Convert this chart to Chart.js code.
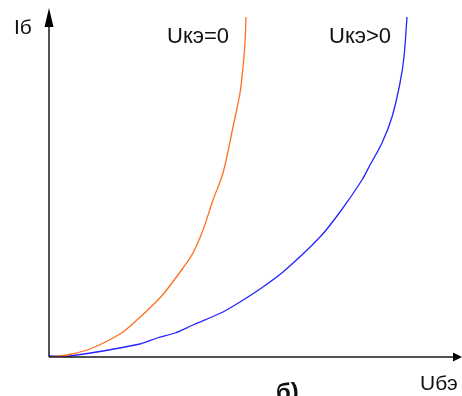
<!DOCTYPE html>
<html><head><meta charset="utf-8">
<script src="https://cdn.jsdelivr.net/npm/chart.js@4/dist/chart.umd.min.js"></script>
<style>html,body{margin:0;padding:0;background:#fff;}#wrap{width:462px;height:396px;position:relative;}</style>
</head><body><div id="wrap"><canvas id="c" width="462" height="396"></canvas></div>
<script>
// Uкэ=0 curve (x = Uбэ, y = Iб), arbitrary units
const orangeX = [0, 11, 23, 41, 71, 89, 106, 116, 134, 144, 154, 164, 174, 184, 191, 194, 196, 197];
const orangeY = [0, 1, 3, 8, 23, 38, 54, 65, 89, 104, 127, 157, 184, 230, 264, 290, 314, 340];
// Uкэ>0 curve
const blueX = [0, 21, 91, 108, 126, 144, 174, 191, 211, 234, 271, 291, 313, 321, 333, 343, 351, 355, 358];
const blueY = [1, 1, 13, 19, 24, 32, 45, 55, 68, 85, 120, 145, 177, 192, 214, 240, 274, 300, 340];
const seriesLabels = ["Uкэ=0", "Uкэ>0"];
const xAxisLabel = "Uбэ";
const yAxisLabel = "Iб";
const captionText = "б)";

const toPts = (xs, ys) => xs.map((x, i) => ({x: x, y: ys[i]}));

const decor = {
  id: 'decor',
  afterDraw(chart) {
    const ctx = chart.ctx;
    const xs = chart.scales.x, ys = chart.scales.y;
    const x0 = xs.getPixelForValue(0), y0 = ys.getPixelForValue(0);
    const xEnd = xs.right, yTop = ys.top;
    ctx.save();
    ctx.strokeStyle = '#1a1a1a'; ctx.fillStyle = '#000';
    ctx.lineWidth = 1.5;
    ctx.beginPath();
    ctx.moveTo(x0, y0); ctx.lineTo(xEnd - 6, y0);
    ctx.moveTo(x0, y0); ctx.lineTo(x0, yTop + 16);
    ctx.stroke();
    // arrow heads
    ctx.beginPath();
    ctx.moveTo(xEnd, y0); ctx.lineTo(xEnd - 9, y0 - 4.5); ctx.lineTo(xEnd - 9, y0 + 4.5); ctx.closePath(); ctx.fill();
    ctx.beginPath();
    ctx.moveTo(x0, yTop); ctx.lineTo(x0 - 4.5, yTop + 19); ctx.lineTo(x0 + 4.5, yTop + 19); ctx.closePath(); ctx.fill();
    // texts
    ctx.fillStyle = '#111';
    ctx.font = '21px "Liberation Sans", Arial, sans-serif';
    ctx.textBaseline = 'alphabetic';
    ctx.textAlign = 'left';
    ctx.fillText(yAxisLabel, 14, 34);
    ctx.fillText(xAxisLabel, 420, 390);
    ctx.font = '22px "Liberation Sans", Arial, sans-serif';
    ctx.fillText(seriesLabels[0], 167, 43);
    ctx.fillText(seriesLabels[1], 329, 43);
    ctx.font = 'bold 24px "Liberation Sans", Arial, sans-serif';
    ctx.fillText(captionText, 276, 400);
    ctx.restore();
  }
};

new Chart(document.getElementById('c'), {
  type: 'line',
  data: {
    datasets: [
      {label: seriesLabels[0], data: toPts(orangeX, orangeY), borderColor: '#ff6f1e', borderWidth: 1.3, pointRadius: 0, tension: 0.3, fill: false},
      {label: seriesLabels[1], data: toPts(blueX, blueY), borderColor: '#2424ff', borderWidth: 1.3, pointRadius: 0, tension: 0.3, fill: false}
    ]
  },
  options: {
    responsive: false,
    animation: false,
    layout: {padding: {left: 49, right: 0, top: 8, bottom: 39}},
    plugins: {legend: {display: false}, tooltip: {enabled: false}},
    scales: {
      x: {type: 'linear', min: 0, max: 413, display: false},
      y: {type: 'linear', min: 0, max: 349, display: false}
    }
  },
  plugins: [decor]
});
</script></body></html>
